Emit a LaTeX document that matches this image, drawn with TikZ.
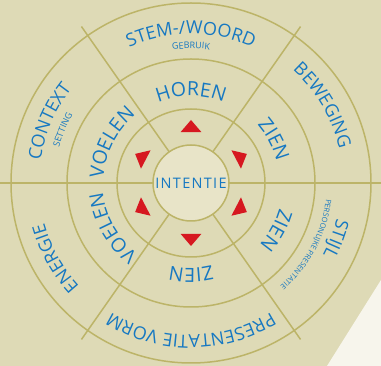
\documentclass[tikz,border=0pt]{standalone}
\usepackage{fontspec}
\setmainfont{Open Sans}
\usetikzlibrary{decorations.text}
\definecolor{sheetbg}{RGB}{222,218,182}
\definecolor{corefill}{RGB}{232,228,200}
\definecolor{ringolive}{RGB}{188,180,104}
\definecolor{labelblue}{RGB}{22,120,194}
\definecolor{cuered}{RGB}{214,24,32}
\definecolor{glare}{RGB}{247,245,236}

\newcommand{\outerlbl}{\color{labelblue}\fontsize{18}{20}\selectfont}
\newcommand{\innerlbl}{\color{labelblue}\fontsize{19.5}{21}\selectfont}
\newcommand{\notelbl}{\color{labelblue}\fontsize{9}{10}\selectfont}
\newcommand{\tinylbl}{\color{labelblue}\fontsize{7.5}{8}\selectfont}
\newcommand{\ringlabel}[4]{%
  \path[decorate, decoration={text along path, text align=center, text={|#3|#4}}]
    (#1+60:#2) arc[start angle=#1+60, end angle=#1-60, radius=#2];}

\begin{document}
\begin{tikzpicture}[x=1pt, y=1pt,
  ring/.style={draw=ringolive, line width=1.5pt},
  cue/.style={fill=cuered},
  core/.style={circle, draw=ringolive, line width=1.5pt, fill=corefill, minimum size=76pt, inner sep=0pt, text=labelblue, font=\fontsize{14.5}{16}\selectfont\addfontfeature{LetterSpace=9}}
]
\useasboundingbox (-191,-183) rectangle (190,183);
\fill[sheetbg] (-191,-183) rectangle (190,183);
\fill[glare] (136,-183) -- (190,-97) -- (190,-183) -- cycle;
\foreach \r in {74,124,180}
  \draw[ring] (0,0) circle[radius=\r];
\foreach \a in {0,55,125,180,235,305}
  \draw[ring] (\a:38) -- (\a:191);
\node[core] (core) at (0,0) {INTENTIE};
\foreach \a in {27.5,90,152.5,207.5,270,332.5}
  \fill[cue] (\a-11.5:52) -- (\a:63) -- (\a+11.5:52) -- cycle;
\ringlabel{90}{149}{\outerlbl}{STEM-/WOORD}
\ringlabel{30.5}{152}{\outerlbl}{BEWEGING}
\ringlabel{156.5}{152}{\outerlbl}{CONTEXT}
\ringlabel{209}{152}{\outerlbl}{ENERGIE}
\ringlabel{270}{152}{\outerlbl}{PRESENTATIE VORM}
\ringlabel{339}{150}{\outerlbl}{STIJL}
\ringlabel{90}{134.5}{\notelbl}{GEBRUIK}
\ringlabel{157.5}{136.5}{\notelbl}{SETTING}
\ringlabel{332}{136}{\tinylbl}{PERSOONLIJKE PRESENTATIE}
\ringlabel{90}{87}{\innerlbl}{HOREN}
\ringlabel{27.5}{88}{\innerlbl}{ZIEN}
\ringlabel{153}{87.5}{\innerlbl}{VOELEN}
\ringlabel{209.5}{88.5}{\innerlbl}{VOELEN}
\ringlabel{270}{85}{\innerlbl}{ZIEN}
\ringlabel{331}{92}{\innerlbl}{ZIEN}
\end{tikzpicture}
\end{document}
